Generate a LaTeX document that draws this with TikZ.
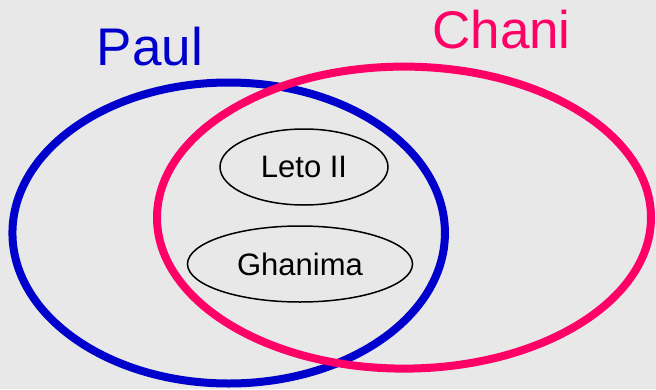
\documentclass[tikz,border=0pt]{standalone}
\usepackage{fontspec}
\setmainfont{Liberation Sans}
\usetikzlibrary{shapes.geometric}
\definecolor{paulblue}{HTML}{0000CC}
\definecolor{chanipink}{HTML}{FF0066}
\definecolor{backgrey}{HTML}{E8E8E8}

\begin{document}
\begin{tikzpicture}[x=1pt,y=-1pt]
	\tikzstyle{every node}+=[inner sep=0pt]
	\tikzstyle{bigset}=[ellipse,line width=8pt]
	\tikzstyle{child}=[ellipse,draw=black,line width=1.5pt,font=\fontsize{31}{31}\selectfont]
	\tikzstyle{setname}=[anchor=base,font=\fontsize{53}{53}\selectfont]
	\fill [backgrey] (0,0) rectangle (656,389);
	\useasboundingbox (0,0) rectangle (656,389);
	\node [bigset,draw=paulblue,minimum width=432.5pt,minimum height=301pt] (paulset) at (228.7,233) {};
	\node [bigset,draw=chanipink,minimum width=494pt,minimum height=302pt] (chaniset) at (404,217.6) {};
	\node [child,minimum width=168pt,minimum height=76pt] (leto) at (304,167) {Leto II};
	\node [child,minimum width=225pt,minimum height=76pt] (ghanima) at (300,264) {Ghanima};
	\node [setname,text=paulblue] (paullabel) at (150,65) {Paul};
	\node [setname,text=chanipink] (chanilabel) at (501.5,48.3) {Chani};
\end{tikzpicture}
\end{document}
